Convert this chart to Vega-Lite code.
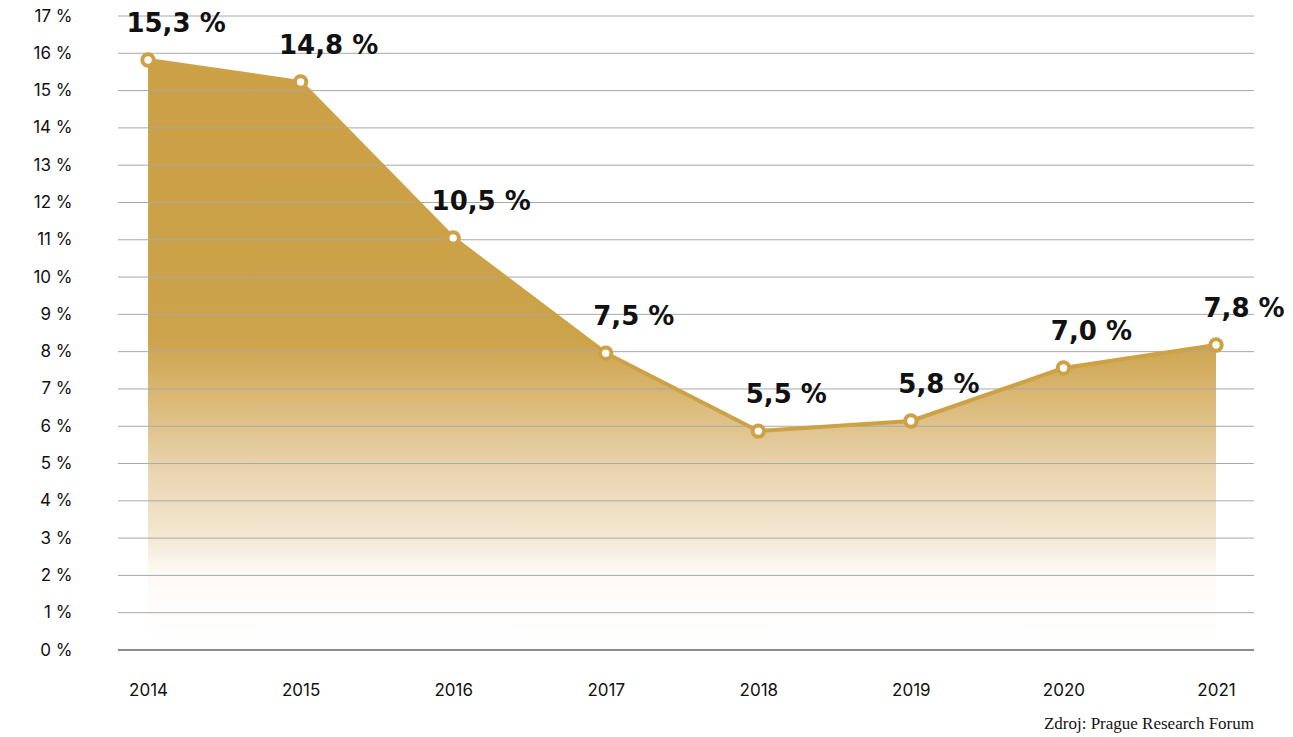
{
  "$schema": "https://vega.github.io/schema/vega-lite/v6.json",
  "width": 1136,
  "height": 634,
  "autosize": {"type": "none"},
  "padding": {"left": 118, "top": 16, "right": 39, "bottom": 87},
  "background": "white",
  "config": {
    "view": {"stroke": null},
    "axisX": {
      "title": null,
      "format": "d",
      "grid": false,
      "domain": false,
      "ticks": false,
      "labelPadding": 32,
      "labelFont": "Inter",
      "labelFontSize": 17,
      "labelColor": "#111111"
    },
    "axisY": {
      "title": null,
      "labelExpr": "datum.value + ' %'",
      "labelOverlap": false,
      "grid": false,
      "domain": false,
      "ticks": false,
      "labelPadding": 46,
      "labelFont": "Inter",
      "labelFontSize": 17,
      "labelColor": "#111111"
    }
  },
  "title": {
    "text": "Zdroj: Prague Research Forum",
    "orient": "bottom",
    "anchor": "end",
    "frame": "group",
    "font": "Liberation Serif",
    "fontSize": 17,
    "fontWeight": "normal",
    "color": "#111111",
    "offset": 18
  },
  "datasets": {
    "mrizka": [
      {"v": 0}, {"v": 1}, {"v": 2}, {"v": 3}, {"v": 4}, {"v": 5}, {"v": 6}, {"v": 7}, {"v": 8},
      {"v": 9}, {"v": 10}, {"v": 11}, {"v": 12}, {"v": 13}, {"v": 14}, {"v": 15}, {"v": 16}, {"v": 17}
    ],
    "data": [
      {"rok": 2014, "hodnota": 15.82, "popisek": "15,3 %"},
      {"rok": 2015, "hodnota": 15.23, "popisek": "14,8 %"},
      {"rok": 2016, "hodnota": 11.05, "popisek": "10,5 %"},
      {"rok": 2017, "hodnota": 7.96, "popisek": "7,5 %"},
      {"rok": 2018, "hodnota": 5.87, "popisek": "5,5 %"},
      {"rok": 2019, "hodnota": 6.14, "popisek": "5,8 %"},
      {"rok": 2020, "hodnota": 7.56, "popisek": "7,0 %"},
      {"rok": 2021, "hodnota": 8.18, "popisek": "7,8 %"}
    ]
  },
  "layer": [
    {
      "data": {"name": "data"},
      "mark": {
        "type": "area",
        "color": {
          "gradient": "linear",
          "x1": 0, "y1": 0, "x2": 0, "y2": 1,
          "stops": [
            {"offset": 0, "color": "#CBA046"},
            {"offset": 0.47, "color": "#CCA24A"},
            {"offset": 0.56, "color": "#D8B56F"},
            {"offset": 0.69, "color": "#E8D3AE"},
            {"offset": 0.8, "color": "#F2E6CF"},
            {"offset": 0.865, "color": "#FCF8F2"},
            {"offset": 0.93, "color": "#FFFDFC"},
            {"offset": 1, "color": "#FFFFFF"}
          ]
        }
      },
      "encoding": {
        "x": {
          "field": "rok",
          "type": "quantitative",
          "title": null,
          "scale": {"domain": [2013.803, 2021.249], "nice": false, "zero": false},
          "axis": {"values": [2014, 2015, 2016, 2017, 2018, 2019, 2020, 2021]}
        },
        "y": {
          "field": "hodnota",
          "type": "quantitative",
          "title": null,
          "scale": {"domain": [0, 17], "nice": false},
          "axis": {"values": [0, 1, 2, 3, 4, 5, 6, 7, 8, 9, 10, 11, 12, 13, 14, 15, 16, 17]}
        }
      }
    },
    {
      "data": {"name": "mrizka"},
      "mark": {"type": "rule", "strokeWidth": 1},
      "encoding": {
        "y": {
          "field": "v",
          "type": "quantitative",
          "title": null,
          "axis": {"values": [0, 1, 2, 3, 4, 5, 6, 7, 8, 9, 10, 11, 12, 13, 14, 15, 16, 17]}
        },
        "color": {
          "condition": {"test": "datum.v === 0", "value": "#1a1a1a"},
          "value": "#a8a8a8"
        }
      }
    },
    {
      "data": {"name": "data"},
      "encoding": {
        "x": {
          "field": "rok",
          "type": "quantitative",
          "title": null,
          "axis": {"values": [2014, 2015, 2016, 2017, 2018, 2019, 2020, 2021]}
        },
        "y": {
          "field": "hodnota",
          "type": "quantitative",
          "title": null,
          "axis": {"values": [0, 1, 2, 3, 4, 5, 6, 7, 8, 9, 10, 11, 12, 13, 14, 15, 16, 17]}
        }
      },
      "layer": [
        {
          "mark": {"type": "line", "color": "#CDA146", "strokeWidth": 4}
        },
        {
          "mark": {"type": "point", "filled": true, "fill": "white", "stroke": "#CDA146", "strokeWidth": 4, "size": 130, "opacity": 1}
        },
        {
          "mark": {
            "type": "text",
            "font": "DejaVu Sans",
            "fontWeight": "bold",
            "fontSize": 26,
            "color": "#111111",
            "align": "center",
            "baseline": "middle",
            "dx": 28,
            "dy": -36
          },
          "encoding": {"text": {"field": "popisek"}}
        }
      ]
    }
  ]
}
